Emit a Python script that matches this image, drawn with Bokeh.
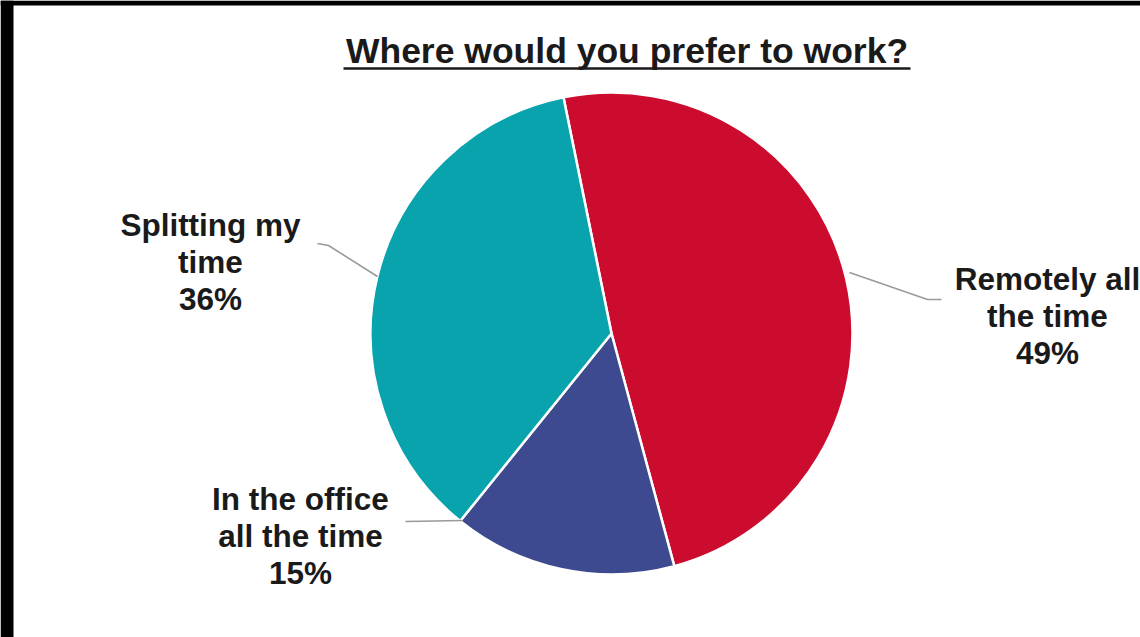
import math
import numpy as np
from bokeh.plotting import figure
from bokeh.models import Range1d, ColumnDataSource
from bokeh.core.properties import value
from bokeh.embed import file_html
from bokeh.resources import INLINE

# ---- data ----
title_text = "Where would you prefer to work?"
categories = ["Remotely all the time", "In the office all the time", "Splitting my time"]
label_lines = [["Remotely all", "the time"], ["In the office", "all the time"], ["Splitting my", "time"]]
values = [49, 15, 36]
colors = ["#CC0C2E", "#3E4A8F", "#09A3AE"]

# ---- layout (pixel-like coordinates; y measured from top) ----
W, H = 1140, 637
LEFT, TOP = 13, 5
cx, cy_pix, R = 611, 333, 241
start_cw_deg = -11.5
TITLE_SHIFT = -11  # compensate svg baseline placement
LABEL_SHIFT = -8

def Y(ypix):
    return H - ypix

p = figure(width=W, height=H, output_backend="svg", toolbar_location=None,
           x_range=Range1d(0, W), y_range=Range1d(0, H),
           min_border=0)
p.axis.visible = False
p.grid.visible = False
p.outline_line_color = None
p.border_fill_color = "white"
p.background_fill_color = "white"

# black frame strips (left and top) as in the screenshot
p.quad(left=[0, 0], right=[LEFT, W], bottom=[0, Y(TOP)], top=[H, H],
       fill_color="black", line_color=None)

vals = np.array(values, dtype=float)
frac = vals / vals.sum()
cw_end = start_cw_deg + np.cumsum(frac) * 360.0
cw_start = np.concatenate([[start_cw_deg], cw_end[:-1]])
src = ColumnDataSource(dict(
    cat=categories, val=values, color=colors,
    start=np.radians(90 - cw_start), end=np.radians(90 - cw_end),
))
p.wedge(x=cx, y=Y(cy_pix), radius=R, start_angle="start", end_angle="end",
        direction="clock", fill_color="color", line_color="white", line_width=2.5,
        source=src)

# leader lines
leaders = [
    ([849, 927, 941], [272, 299, 299]),
    ([405, 462], [521, 520]),
    ([317, 328, 377], [243, 245, 276]),
]
for xs, ys in leaders:
    p.line(xs, [Y(v) for v in ys], line_color="#9a9a9a", line_width=1.6)

# labels
label_pos = [(1047, 286), (300, 506), (210, 232)]
step = 37
for (lx, ly), lines, v in zip(label_pos, label_lines, values):
    texts = lines + [f"{v}%"]
    p.text(x=[lx] * len(texts), y=[Y(ly + LABEL_SHIFT + i * step) for i in range(len(texts))], text=texts,
           text_align="center", text_baseline="alphabetic",
           text_font=value("Liberation Sans"), text_font_style="bold",
           text_font_size="31.5px", text_color="#1a1a1a")

# title with underline
p.text(x=[626.5], y=[Y(61 + TITLE_SHIFT)], text=[title_text], text_align="center", text_baseline="alphabetic",
       text_font=value("Liberation Sans"), text_font_style="bold",
       text_font_size="35.5px", text_color="#1a1a1a")
p.line([343, 910], [Y(68), Y(68)], line_color="#1a1a1a", line_width=2.5)

open("out.html", "w").write(file_html(p, INLINE))
